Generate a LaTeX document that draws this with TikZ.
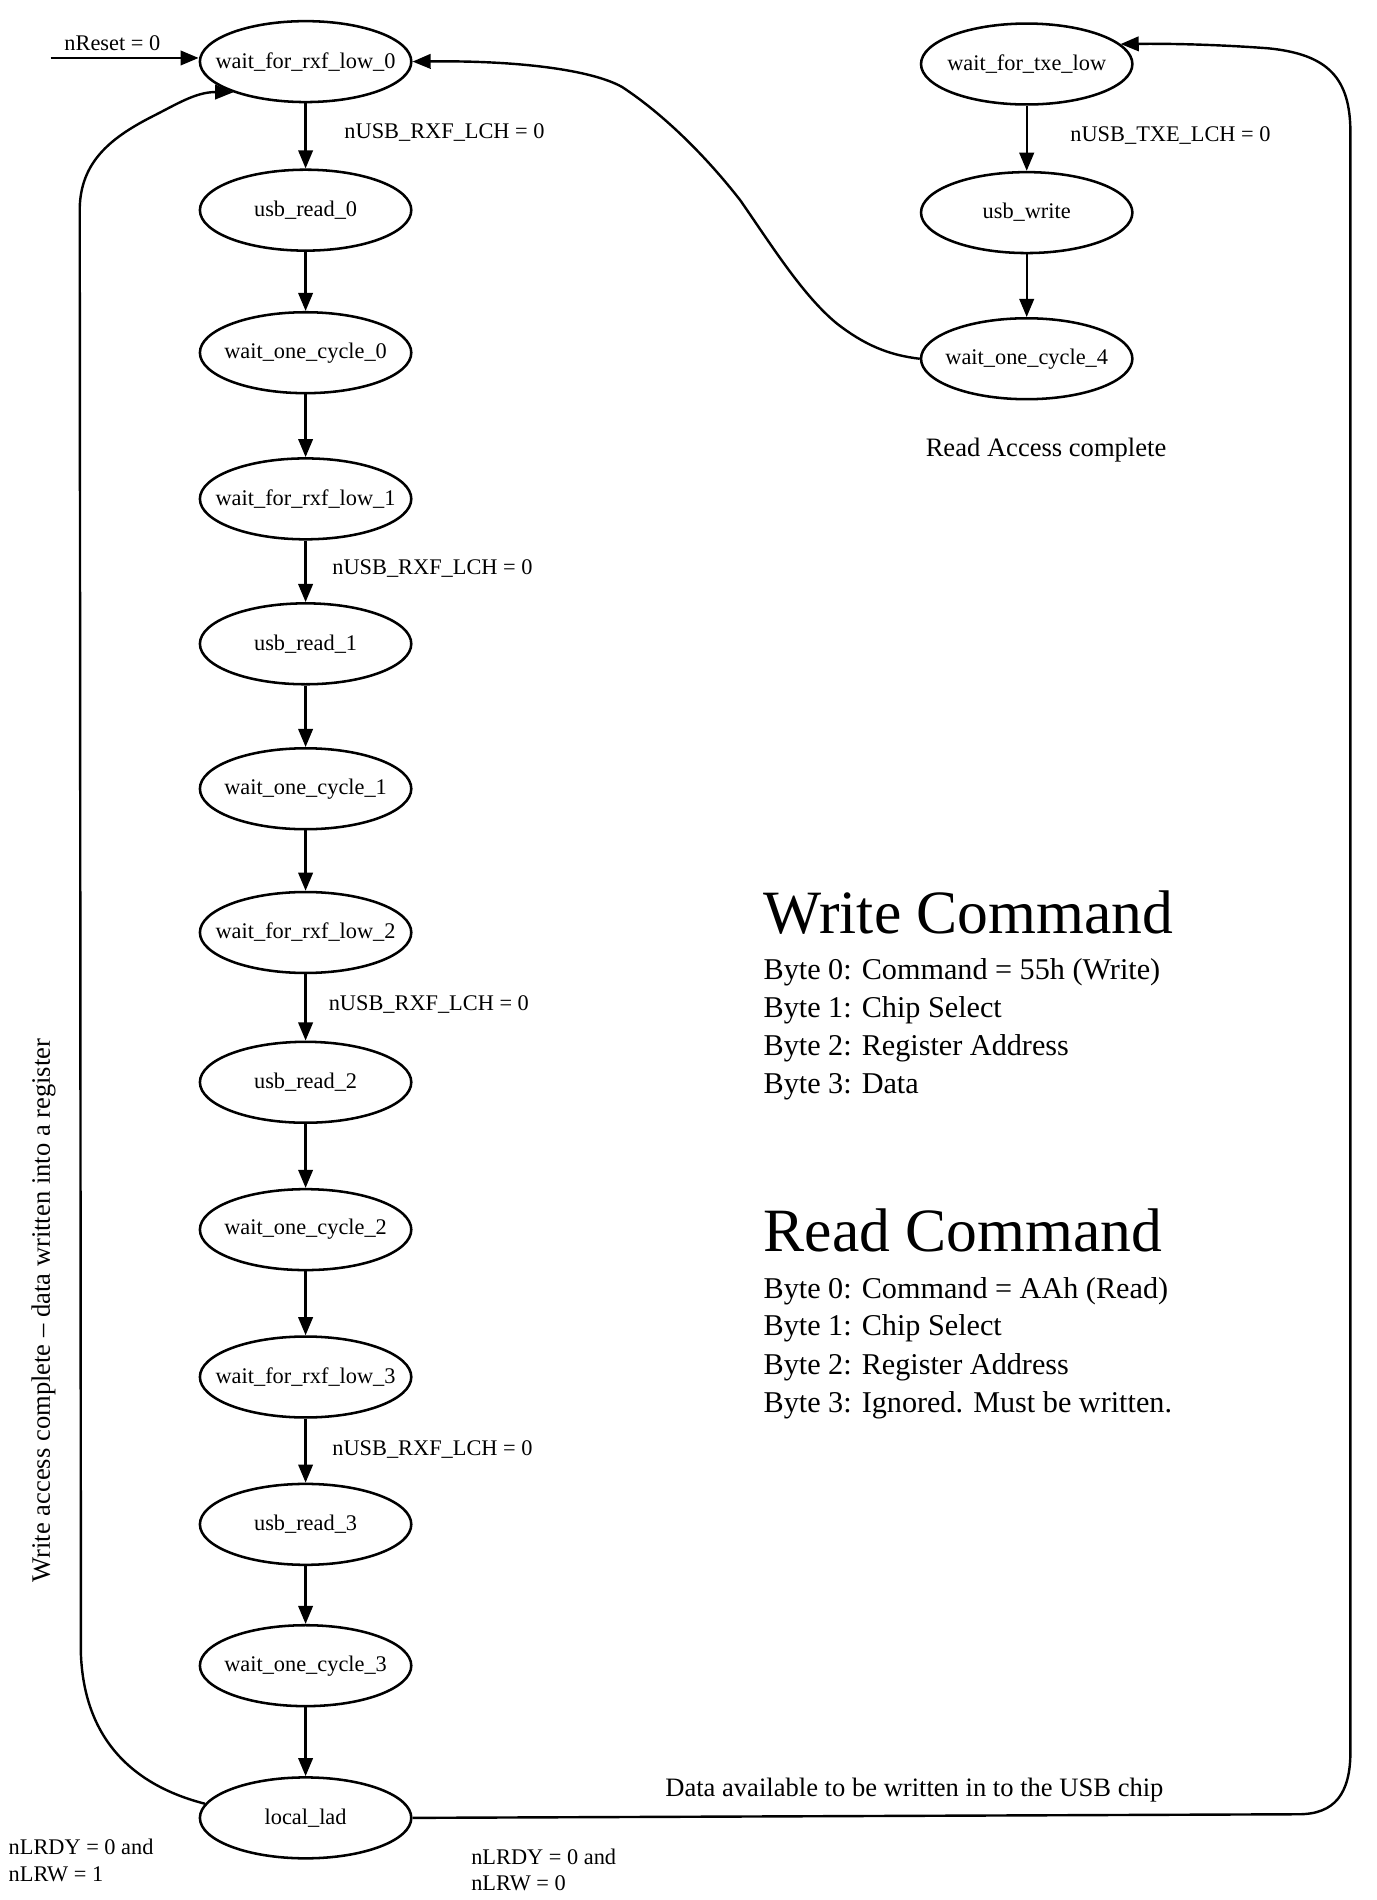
\documentclass[tikz,border=0pt]{standalone}
\usepackage{fontspec}
\setmainfont{Liberation Serif}
\usetikzlibrary{shapes.geometric,arrows.meta}
\newcommand\stxt[1]{\makebox[0pt]{#1}}
\begin{document}
\begin{tikzpicture}[x=1pt,y=-1pt,
 state/.style={draw,ellipse,line width=2.1pt,minimum width=175pt,minimum height=67pt,inner sep=0pt,font=\fontsize{18.5}{22}\selectfont},
 conn/.style={line width=2pt,-{Triangle[length=15pt,width=12pt]}},
 lbl/.style={inner sep=0pt,font=\fontsize{18.5}{22}\selectfont},
 glbl/.style={inner sep=0pt,font=\fontsize{22}{26}\selectfont},
 head/.style={inner sep=0pt,font=\fontsize{51}{60}\selectfont,anchor=base west},
 body/.style={inner sep=0pt,font=\fontsize{25}{31}\selectfont,anchor=base west},
]
\useasboundingbox (0,0) rectangle (1140,1573);

% left column
\node[state] (wf0) at (253,51) {\stxt{wait\_for\_rxf\_low\_0}};
\node[state] (ur0) at (253,174) {\stxt{usb\_read\_0}};
\node[state] (wc0) at (253,292) {\stxt{wait\_one\_cycle\_0}};
\node[state] (wf1) at (253,413) {\stxt{wait\_for\_rxf\_low\_1}};
\node[state] (ur1) at (253,533) {\stxt{usb\_read\_1}};
\node[state] (wc1) at (253,653) {\stxt{wait\_one\_cycle\_1}};
\node[state] (wf2) at (253,772) {\stxt{wait\_for\_rxf\_low\_2}};
\node[state] (ur2) at (253,896) {\stxt{usb\_read\_2}};
\node[state] (wc2) at (253,1018) {\stxt{wait\_one\_cycle\_2}};
\node[state] (wf3) at (253,1140) {\stxt{wait\_for\_rxf\_low\_3}};
\node[state] (ur3) at (253,1262) {\stxt{usb\_read\_3}};
\node[state] (wc3) at (253,1379) {\stxt{wait\_one\_cycle\_3}};
\node[state] (ll) at (253,1505) {\stxt{local\_lad}};
% right column
\node[state] (wt) at (850,53) {\stxt{wait\_for\_txe\_low}};
\node[state] (uw) at (850,176) {\stxt{usb\_write}};
\node[state] (w4) at (850,297) {\stxt{wait\_one\_cycle\_4}};

\foreach \a/\b in {wf0/ur0,ur0/wc0,wc0/wf1,wf1/ur1,ur1/wc1,wc1/wf2,wf2/ur2,ur2/wc2,wc2/wf3,wf3/ur3,ur3/wc3,wc3/ll,wt/uw,uw/w4}
  \draw[conn] (\a) -- (\b);

% reset
\coordinate (rs) at (42,48);
\draw[conn] (rs) -- (rs -| wf0.west);
\node[lbl] (lrs) at (93,36) {nReset = 0};

% edge labels
\node[lbl,anchor=west] (l0) at (285,110) {nUSB\_RXF\_LCH = 0};
\node[lbl,anchor=west] (l1) at (275,471) {nUSB\_RXF\_LCH = 0};
\node[lbl,anchor=west] (l2) at (272,832) {nUSB\_RXF\_LCH = 0};
\node[lbl,anchor=west] (l3) at (275,1200) {nUSB\_RXF\_LCH = 0};
\node[lbl,anchor=west] (lt) at (886,112) {nUSB\_TXE\_LCH = 0};

% read access complete curve
\draw[conn] (w4.west) .. controls (735,294) and (715,285) .. (693,268)
  .. controls (665,245) and (640,205) .. (613,166)
  .. controls (585,130) and (550,95) .. (515,72)
  .. controls (490,58) and (430,50) .. (wf0.east);
\node[glbl] (lra) at (866,373) {Read Access complete};

% write access complete loop
\draw[conn] (ll.172) .. controls (110,1478) and (70,1440) .. (67,1370)
  -- (66,172) .. controls (67,135) and (90,115) .. (125,97)
  .. controls (145,87) and (162,76) .. (wf0.203);
\node[glbl,rotate=90] (lwa) at (36,1085) {Write access complete – data written into a register};
\node[lbl,anchor=west,align=left] (lw1) at (7,1540) {nLRDY = 0 and\\nLRW = 1};

% data available loop
\draw[conn] (ll.east) -- (1075,1502) .. controls (1105,1502) and (1118,1485) .. (1118,1450)
  -- (1118,110) .. controls (1118,65) and (1100,45) .. (1050,40)
  .. controls (1010,37) and (970,36) .. (wt.12);
\node[glbl] (lda) at (757,1482) {Data available to be written in to the USB chip};
\node[lbl,anchor=west,align=left] (lw0) at (390,1548) {nLRDY = 0 and\\nLRW = 0};

% command description
\node[head] (hw) at (632,773) {Write Command};
\node[body] (w0) at (632,811) {Byte 0: Command = 55h (Write)};
\node[body] (w1) at (632,842) {Byte 1: Chip Select};
\node[body] (w2) at (632,874) {Byte 2: Register Address};
\node[body] (w3) at (632,905) {Byte 3: Data};
\node[head] (hr) at (632,1036) {Read Command};
\node[body] (r0) at (632,1075) {Byte 0: Command = AAh (Read)};
\node[body] (r1) at (632,1106) {Byte 1: Chip Select};
\node[body] (r2) at (632,1138) {Byte 2: Register Address};
\node[body] (r3) at (632,1169) {Byte 3: Ignored. Must be written.};
\end{tikzpicture}
\end{document}
